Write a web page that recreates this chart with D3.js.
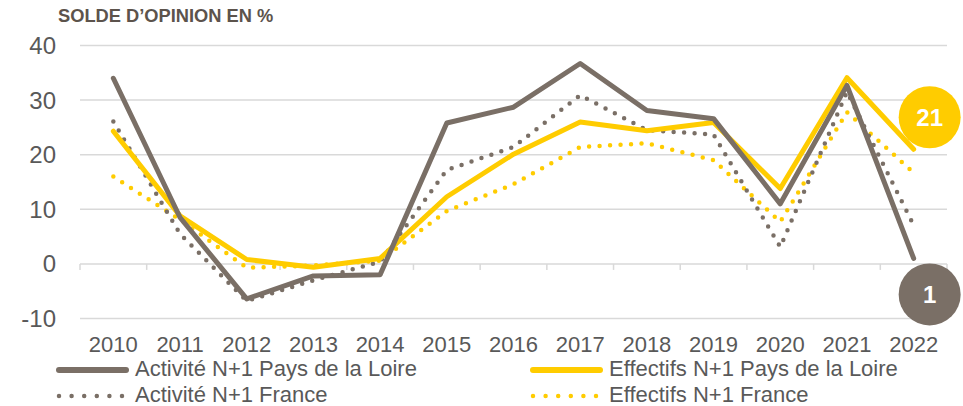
<!DOCTYPE html>
<html>
<head>
<meta charset="utf-8">
<script src="https://cdn.jsdelivr.net/npm/d3@7"></script>
<style>
  body { margin: 0; background: #fff; }
  svg { display: block; font-family: "Liberation Sans", Arial, sans-serif; }
</style>
</head>
<body>
<div id="chart"></div>
<script>
/* data */
const years = ["2010", "2011", "2012", "2013", "2014", "2015", "2016", "2017", "2018", "2019", "2020", "2021", "2022"];
const activitePdl = [34, 8.5, -6.4, -2.2, -2, 25.8, 28.7, 36.7, 28.1, 26.6, 11, 32.7, 1];
const effectifsPdl = [24.3, 8.8, 0.8, -0.6, 1, 12.3, 20.1, 26, 24.4, 25.9, 13.8, 34.1, 21];
const activiteFr = [26.1, 5.5, -6.8, -3, 0.4, 17.2, 21.4, 30.9, 24.5, 23.7, 3.1, 31.5, 7.1];
const effectifsFr = [16, 8.1, -0.7, -0.3, 0.6, 9.7, 14.6, 21.4, 22.1, 19, 7.7, 27.8, 16.7];
const yTicks = [-10, 0, 10, 20, 30, 40];
const endLabels = ["21", "1"];

const gray = "#7a6f66", yellow = "#ffcc00", textCol = "#595959";

const width = 963, height = 406;
const svg = d3.select("#chart").append("svg")
    .attr("width", width)
    .attr("height", height);

// scales
var x = d3.scalePoint()
    .domain(years)
    .range([80, 947])
    .padding(0.5);
var y = d3.scaleLinear()
    .domain([-10, 40])
    .range([318.5, 45.5]);
const step = x.step();

// title
svg.append("text")
    .attr("x", 58)
    .attr("y", 22)
    .attr("font-size", 18.3)
    .attr("font-weight", "bold")
    .attr("fill", "#5c534c")
    .text("SOLDE D’OPINION EN %");

// gridlines
svg.append("g")
    .selectAll("line")
    .data(yTicks)
    .join("line")
    .attr("x1", 80).attr("x2", 947)
    .attr("y1", d => y(d)).attr("y2", d => y(d))
    .attr("stroke", "#d9d9d9")
    .attr("stroke-width", 1.5);

// y labels
svg.append("g")
    .selectAll("text")
    .data(yTicks)
    .join("text")
    .attr("x", 56)
    .attr("y", d => y(d) + 8.5)
    .attr("text-anchor", "end")
    .attr("font-size", 24)
    .attr("fill", textCol)
    .text(d => d);

// category ticks on the zero line
svg.append("g")
    .selectAll("line")
    .data(d3.range(years.length + 1))
    .join("line")
    .attr("x1", i => 80 + i * step).attr("x2", i => 80 + i * step)
    .attr("y1", y(0)).attr("y2", y(0) + 6)
    .attr("stroke", "#d9d9d9")
    .attr("stroke-width", 1.5);

// x labels
svg.append("g")
    .selectAll("text")
    .data(years)
    .join("text")
    .attr("x", d => x(d))
    .attr("y", 352)
    .attr("text-anchor", "middle")
    .attr("font-size", 22)
    .attr("fill", textCol)
    .text(d => d);

// series
const series = [
    { name: "Effectifs N+1 France", values: effectifsFr, color: yellow, dotted: true },
    { name: "Activité N+1 France", values: activiteFr, color: gray, dotted: true },
    { name: "Effectifs N+1 Pays de la Loire", values: effectifsPdl, color: yellow, dotted: false },
    { name: "Activité N+1 Pays de la Loire", values: activitePdl, color: gray, dotted: false }
];

const line = d3.line()
    .x((d, i) => x(years[i]))
    .y(d => y(d));

series.forEach(s => {
    svg.append("path")
        .datum(s.values)
        .attr("fill", "none")
        .attr("stroke", s.color)
        .attr("stroke-width", s.dotted ? 4.5 : 5)
        .attr("stroke-linecap", "round")
        .attr("stroke-linejoin", "round")
        .attr("stroke-dasharray", s.dotted ? "0,10.5" : null)
        .attr("d", line);
});

// end labels
const last = years[years.length - 1];
const bubbles = [
    { txt: endLabels[0], v: effectifsPdl[12], dy: -32, color: yellow },
    { txt: endLabels[1], v: activitePdl[12], dy: 36, color: gray }
];
bubbles.forEach(b => {
    const cx = x(last) + 16, cy = y(b.v) + b.dy;
    svg.append("circle")
        .attr("cx", cx).attr("cy", cy).attr("r", 31)
        .attr("fill", b.color);
    svg.append("text")
        .attr("x", cx).attr("y", cy + 8.5)
        .attr("text-anchor", "middle")
        .attr("font-size", 24)
        .attr("font-weight", "bold")
        .attr("fill", "#fff")
        .text(b.txt);
});

// legend
const legend = [
    { name: "Activité N+1 Pays de la Loire", color: gray, dotted: false, x: 57, y: 370 },
    { name: "Effectifs N+1 Pays de la Loire", color: yellow, dotted: false, x: 531, y: 370 },
    { name: "Activité N+1 France", color: gray, dotted: true, x: 57, y: 396 },
    { name: "Effectifs N+1 France", color: yellow, dotted: true, x: 531, y: 396 }
];
legend.forEach(l => {
    svg.append("line")
        .attr("x1", l.x + 2).attr("x2", l.x + 69)
        .attr("y1", l.y).attr("y2", l.y)
        .attr("stroke", l.color)
        .attr("stroke-width", l.dotted ? 4.5 : 6)
        .attr("stroke-linecap", "round")
        .attr("stroke-dasharray", l.dotted ? "0,12.6" : null);
    svg.append("text")
        .attr("x", l.x + 78)
        .attr("y", l.y + 6)
        .attr("font-size", 22)
        .attr("fill", textCol)
        .text(l.name);
});
</script>
</body>
</html>
